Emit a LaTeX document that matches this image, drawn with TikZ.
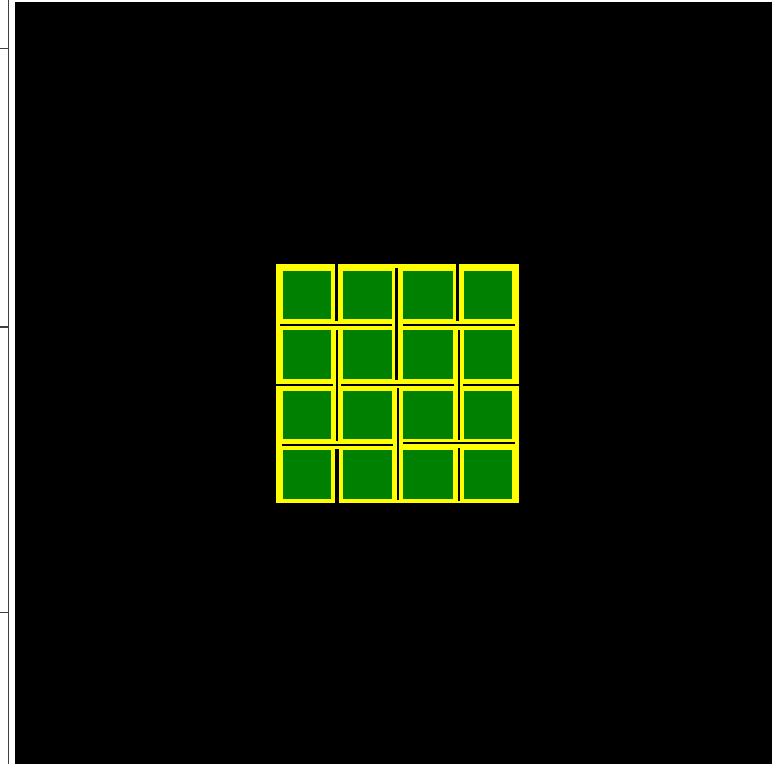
\documentclass[tikz,border=0pt]{standalone}
\usetikzlibrary{backgrounds}
\definecolor{cellgreen}{HTML}{008000}
\definecolor{cellyellow}{HTML}{FFFF00}
\tikzset{
  thickcut/.style={draw=black,line width=3.4pt},
  thincut/.style={draw=black,line width=2.1pt},
  axisline/.style={draw=black!75,line width=1.5pt},
  cellbox/.style={fill=cellgreen},
}
\begin{document}
\begin{tikzpicture}[x=1pt,y=-1pt]
\useasboundingbox (0,0) rectangle (772,764);
\fill[white] (0,0) rectangle (772,764);
% axis strip on the left
\draw[axisline] (8.5,0) -- (8.5,764);
\draw[axisline] (0,48.5) -- (8.5,48.5);
\draw[axisline] (0,327) -- (8.5,327);
\draw[axisline] (0,612.5) -- (8.5,612.5);
% black canvas
\fill[black] (15,2) rectangle (772,764);
% yellow block
\fill[cellyellow] (276,264) rectangle (519,503);
% green cells
\foreach \ya/\yb in {271.3/318.7, 329.7/378.7, 390.7/438.5, 449.7/498.5}{
  \foreach \xa/\xb in {282.7/331, 342.7/391.7, 402.7/452.7, 464/512.3}{
    \fill[cellgreen] (\xa,\ya) rectangle (\xb,\yb);
  }
}
% dividing cuts
\draw[thickcut] (336.5,263) -- (336.5,321);
\draw[thickcut] (396.7,268) -- (396.7,380);
\draw[thickcut] (457.7,263) -- (457.7,321);
\draw[thincut] (280,325) -- (392,325);
\draw[thincut] (403,325) -- (515,325);
\draw[thincut] (337,330) -- (337,441);
\draw[thincut] (459,330) -- (459,440);
\draw[thincut] (275,385) -- (333,385);
\draw[thincut] (341,385) -- (454,385);
\draw[thincut] (463,385) -- (520,385);
\draw[thincut,line width=2.6pt] (398,388) -- (398,500);
\draw[thincut] (282,445) -- (393,445);
\draw[thincut] (403,443) -- (515,443);
\draw[thickcut] (337,449) -- (337,506);
\draw[thincut] (459,448) -- (459,501);
\end{tikzpicture}
\end{document}
